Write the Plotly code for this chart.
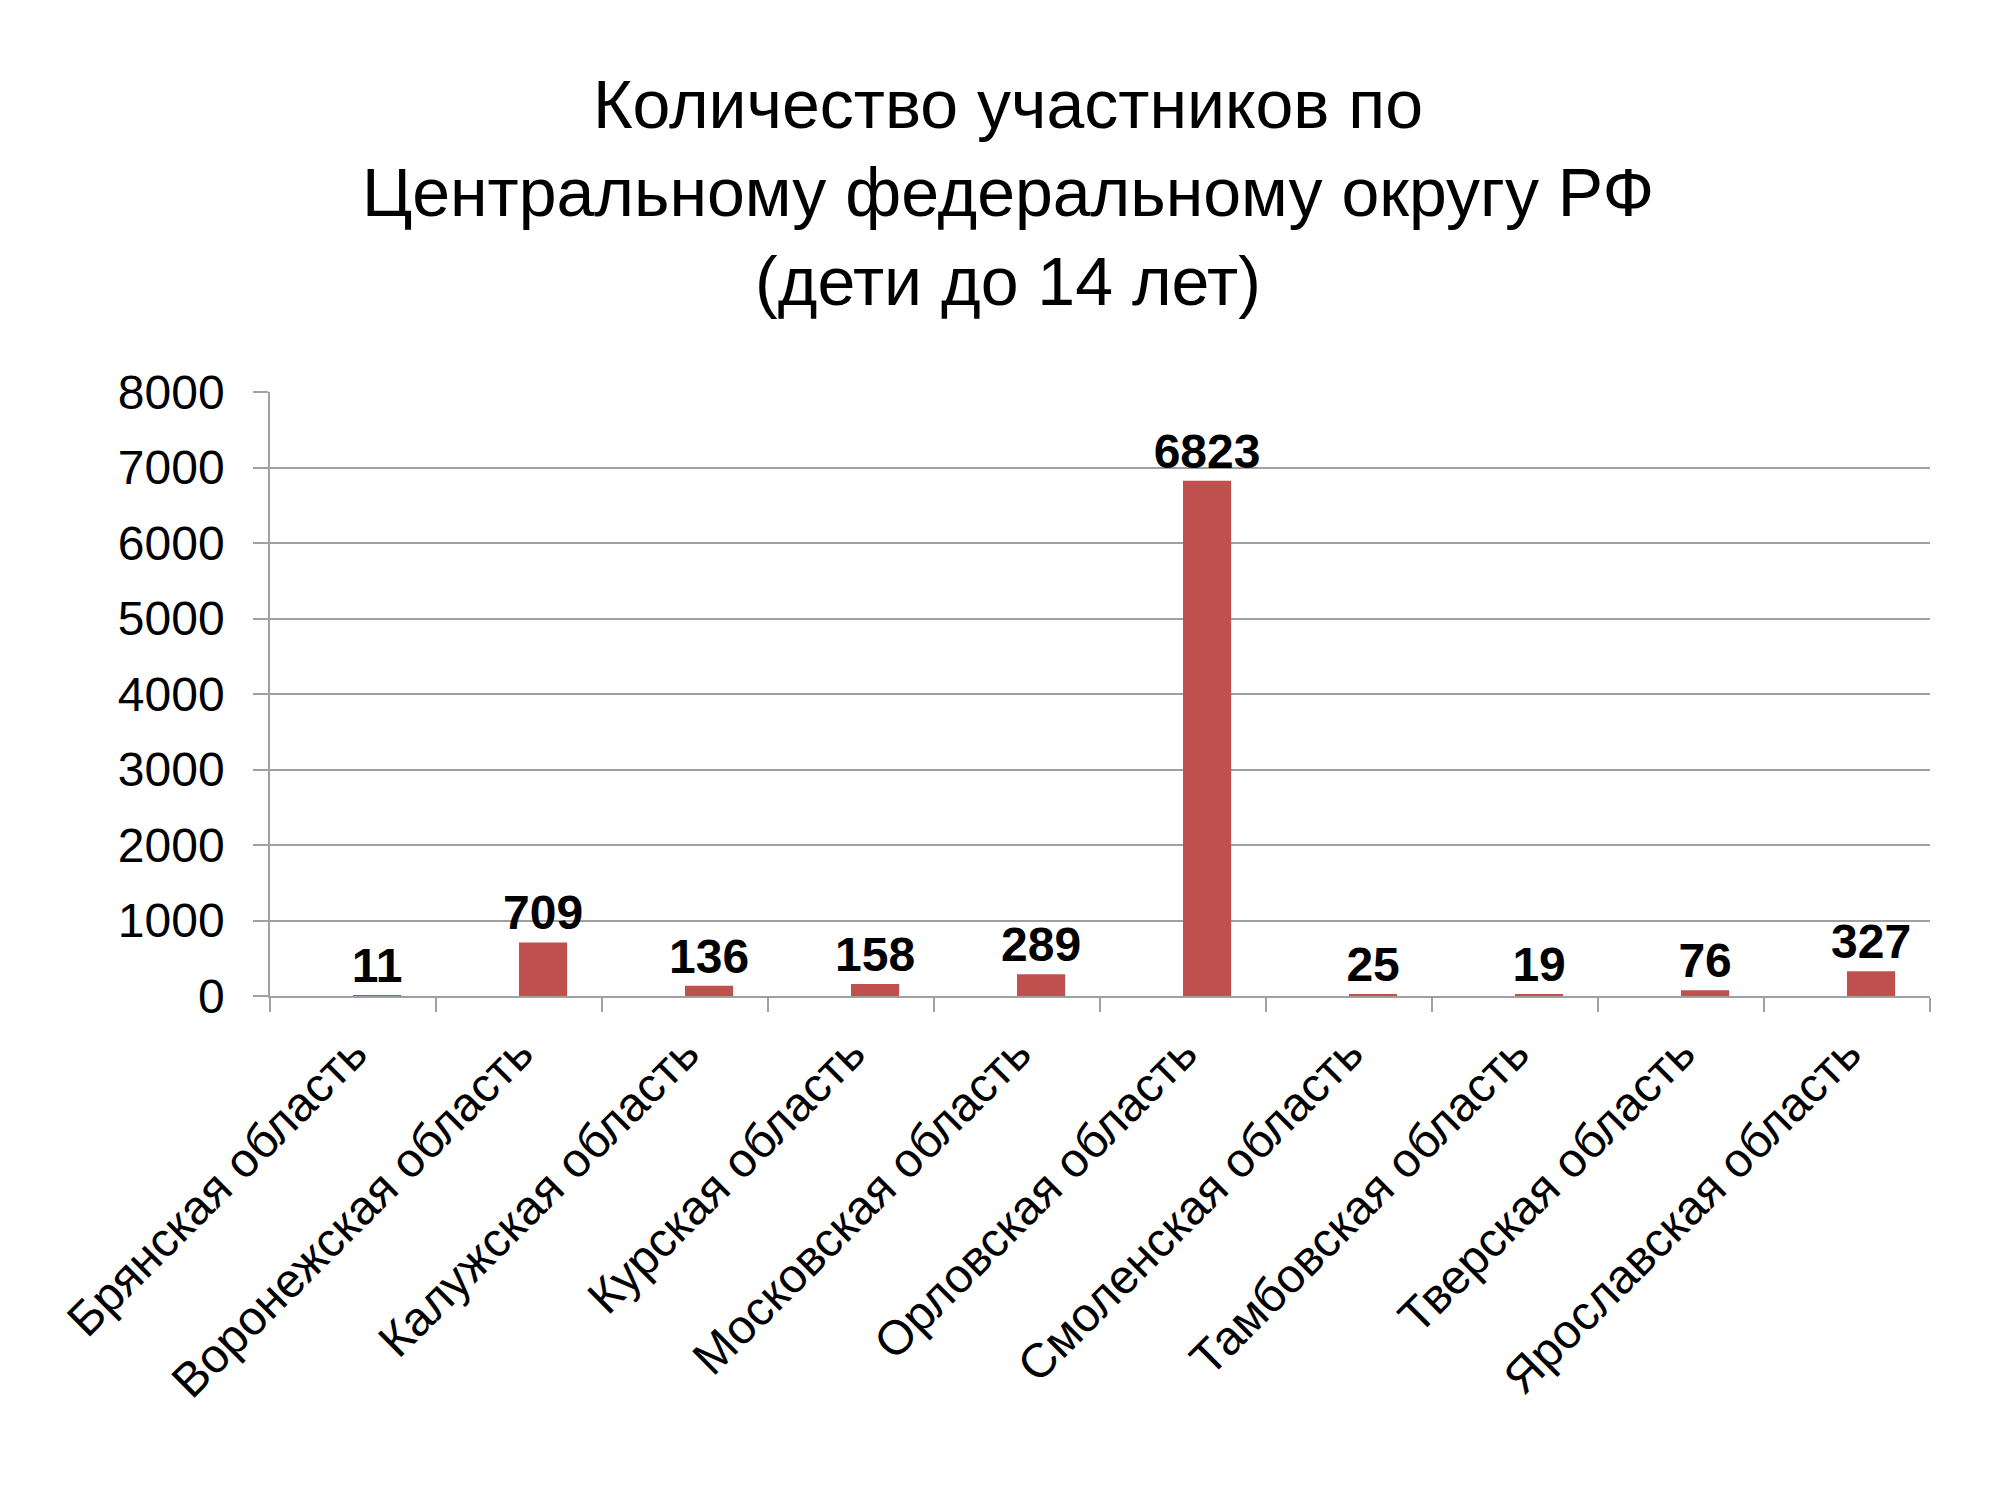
import plotly.graph_objects as go

regions = ["Брянская область", "Воронежская область", "Калужская область",
           "Курская область", "Московская область", "Орловская область",
           "Смоленская область", "Тамбовская область", "Тверская область",
           "Ярославская область"]
participants = [11, 709, 136, 158, 289, 6823, 25, 19, 76, 327]

title = "Количество участников по<br>Центральному федеральному округу РФ<br>(дети до 14 лет)"

grey = "#A0A0A0"
font = "Liberation Sans, Arial, sans-serif"

fig = go.Figure()
fig.add_trace(go.Bar(
    x=regions, y=participants,
    marker=dict(color="#C0504D", line=dict(width=0)),
    width=0.29, offset=0,
    text=participants, textposition="outside", constraintext="none",
    textfont=dict(family=font, size=48, color="black", weight="bold"),
    cliponaxis=False,
))

fig.update_layout(
    width=2000, height=1500,
    paper_bgcolor="white", plot_bgcolor="white",
    margin=dict(l=262, r=78, t=384, b=512),
    font=dict(family=font, color="black"),
    showlegend=False,
    title=dict(text=title, x=0.5, xanchor="center", xref="container",
               y=1 - 120 / 1500, yanchor="top", yref="container",
               font=dict(family=font, size=68, color="black")),
)

fig.update_xaxes(
    showline=True, linecolor=grey, linewidth=1.5,
    ticks="outside", tickson="boundaries", ticklen=14, tickcolor=grey, tickwidth=1.5,
    tickangle=-45, tickfont=dict(family=font, size=48, color="black"),
    ticklabelstandoff=8,
    showgrid=False,
)
fig.update_yaxes(
    range=[0, 8000], dtick=1000,
    showline=True, linecolor=grey, linewidth=1.5,
    ticks="outside", ticklen=15, tickcolor=grey, tickwidth=1.5,
    showgrid=True, gridcolor=grey, gridwidth=1.5,
    zeroline=False,
    tickfont=dict(family=font, size=48, color="black"),
    ticklabelstandoff=19,
)

fig.write_html("out.html")
